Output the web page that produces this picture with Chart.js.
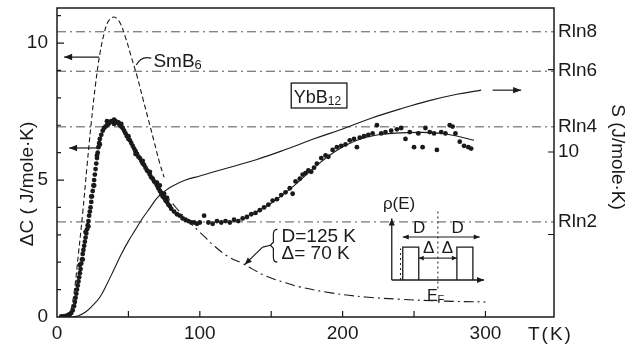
<!DOCTYPE html>
<html>
<head>
<meta charset="utf-8">
<script src="https://cdn.jsdelivr.net/npm/chart.js@4.4.1/dist/chart.umd.min.js"></script>
<style>
  html, body { margin: 0; padding: 0; background: #fff; }
  #wrap { width: 627px; height: 349px; }
</style>
</head>
<body>
<div id="wrap"><canvas id="chart" width="627" height="349"></canvas></div>
<script>
// YbB12 measured excess specific heat, [T (K), dC (J/mole K)]
const ybPoints = [
  [3,0.02],[5,0.03],[7,0.05],[8,0.08],[9,0.1],[10,0.15],[11,0.25],[12,0.4],[12.5,0.55],[13,0.7],
  [13.5,0.85],[14,1.0],[14.5,1.15],[15,1.3],[15.5,1.45],[16,1.6],[16,1.9],[16.5,1.75],[17,1.95],[17.5,2.1],
  [18,2.3],[18,2.1],[18.5,2.45],[19,2.6],[19.5,2.75],[20,2.9],[20,3.1],[20.5,3.05],[21,3.2],[21.5,3.35],
  [22,3.5],[22,3.3],[22.5,3.7],[23,3.85],[23.5,4.0],[24,4.2],[24,4.4],[24.5,4.4],[25,4.6],[25.5,4.8],
  [26,5.0],[26,4.8],[26.5,5.2],[27,5.4],[27.5,5.6],[28,5.8],[28,5.9],[28.5,6.0],[29,6.2],[29.5,6.35],
  [30,6.5],[30,6.3],[31,6.65],[32,6.8],[33,6.9],[34,6.95],[35,7.0],[35,7.15],[36,7.05],[37,7.1],
  [38,7.15],[39,7.15],[40,7.2],[40,7.05],[41,7.15],[42,7.1],[43,7.1],[44,7.0],[45,6.95],[45,7.05],
  [46,6.9],[47,6.8],[48,6.7],[49,6.6],[50,6.5],[50,6.6],[51,6.45],[52,6.35],[53,6.25],[54,6.15],
  [55,6.05],[55,5.95],[56,5.95],[57,5.85],[58,5.8],[59,5.7],[60,5.6],[60,5.7],[61,5.55],[62,5.45],
  [63,5.35],[64,5.3],[65,5.2],[65,5.3],[66,5.1],[67,5.05],[68,4.95],[69,4.9],[70,4.8],[70,4.9],
  [71,4.7],[72,4.6],[72,4.8],[73,4.5],[74,4.4],[75,4.35],[75,4.5],[76,4.25],[77,4.2],[77,4.35],
  [78,4.1],[79,4.05],[80,3.95],[82,3.85],[84,3.75],[86,3.7],[88,3.6],[90,3.55],[92,3.5],[94,3.45],
  [96,3.45],[98,3.4],[100,3.45],[103,3.7],[106,3.45],[109,3.4],[112,3.5],[115,3.45],[118,3.5],[121,3.45],
  [124,3.55],[127,3.5],[130,3.6],[133,3.65],[136,3.75],[139,3.8],[142,3.9],[145,4.0],[148,4.1],[151,4.25],
  [154,4.3],[157,4.45],[160,4.55],[163,4.7],[165,4.5],[167,4.95],[170,5.05],[172,5.2],[174,5.25],[176,5.35],
  [178,5.3],[180,5.45],[182,5.6],[185,5.8],[188,5.9],[190,5.85],[193,6.1],[196,6.2],[199,6.25],[202,6.3],
  [205,6.45],[208,6.5],[210,6.2],[212,6.55],[215,6.6],[218,6.65],[221,6.7],[224,7.0],[227,6.7],[230,6.75],
  [234,6.8],[238,6.85],[241,6.9],[244,6.5],[247,6.75],[250,6.2],[253,6.7],[256,6.2],[258,6.9],[261,6.75],
  [264,6.7],[266,6.1],[269,6.75],[272,6.7],[275,7.0],[277,6.95],[279,6.7],[282,6.4],[285,6.25],[288,6.2],
  [290,6.15]
];

// smooth line through the high temperature YbB12 data
const fitT  = [135, 150, 165, 180, 195, 210, 225, 240, 255, 270, 282, 292];
const fitDC = [3.7, 4.15, 4.75, 5.45, 6.05, 6.45, 6.65, 6.72, 6.74, 6.7, 6.58, 6.45];

// SmB6 specific heat (dashed)
const smbT  = [9, 12, 15, 18, 21, 24, 27, 30, 33, 36, 40, 44, 48, 52, 56, 60, 64, 68, 72, 75];
const smbDC = [0, 0.9, 2.3, 3.8, 5.5, 7.1, 8.5, 9.6, 10.35, 10.8, 10.95, 10.75, 10.2, 9.5, 8.8, 8.0, 7.2, 6.4, 5.6, 5.1];

// calculated curve, D = 125 K, delta = 70 K (dash-dot)
const calcT  = [72, 80, 90, 100, 110, 120, 130, 146, 160, 170, 193, 216, 240, 270, 300];
const calcDC = [4.7, 4.2, 3.6, 3.1, 2.6, 2.2, 1.95, 1.5, 1.25, 1.1, 0.87, 0.73, 0.65, 0.58, 0.55];

// entropy S (right axis, solid)
const entT = [10, 15, 20, 25, 30, 35, 40, 45, 50, 55, 60, 65, 70, 75, 80, 90, 100, 120, 140, 160, 180, 200, 220, 240, 260, 280, 297];
const entS = [0, 0.08, 0.3, 0.7, 1.2, 2.0, 2.9, 3.8, 4.6, 5.3, 6.0, 6.6, 7.2, 7.6, 7.9, 8.3, 8.55, 9.05, 9.55, 10.15, 10.8, 11.4, 12.05, 12.6, 13.1, 13.5, 13.75];

// axes
const xMax = 348;
const leftMax = 11.28;
const rightMax = 18.73;
const R = 8.314;
const rightTickVals = [R * Math.log(2), 10, R * Math.log(4), R * Math.log(6), R * Math.log(8)];
const rightTickText = ['Rln2', '10', 'Rln4', 'Rln6', 'Rln8'];
const refLevels = [R * Math.log(2), R * Math.log(4), R * Math.log(6), R * Math.log(8)];

const FONT = "'Liberation Sans', Arial, sans-serif";
const INK = '#1a1a1a';

const toXY = (xs, ys) => xs.map((v, i) => ({ x: v, y: ys[i] }));

// fixed axis boxes so the plot frame sits where it does in the figure
function fixBox(s, size) {
  if (s.isHorizontal()) s.height = size; else s.width = size;
  s.paddingTop = 0; s.paddingBottom = 0; s.paddingLeft = 0; s.paddingRight = 0;
}

function arrow(ctx, x1, y1, x2, y2, len = 8, w = 3.2) {
  ctx.beginPath(); ctx.moveTo(x1, y1); ctx.lineTo(x2, y2); ctx.stroke();
  const a = Math.atan2(y2 - y1, x2 - x1);
  ctx.beginPath();
  ctx.moveTo(x2, y2);
  ctx.lineTo(x2 - len * Math.cos(a) + w * Math.sin(a), y2 - len * Math.sin(a) - w * Math.cos(a));
  ctx.lineTo(x2 - len * Math.cos(a) - w * Math.sin(a), y2 - len * Math.sin(a) + w * Math.cos(a));
  ctx.closePath(); ctx.fill();
}

function subText(ctx, main, sub, x, y, size, subSize) {
  ctx.font = size + 'px ' + FONT;
  ctx.textAlign = 'left'; ctx.textBaseline = 'alphabetic';
  ctx.fillText(main, x, y);
  const w = ctx.measureText(main).width;
  ctx.font = subSize + 'px ' + FONT;
  ctx.fillText(sub, x + w, y + 2);
}

const overlay = {
  id: 'overlay',
  afterDatasetsDraw(chart) {
    const { ctx, chartArea: a, scales } = chart;
    const px = v => scales.x.getPixelForValue(v);
    const py = v => scales.y.getPixelForValue(v);
    const pr = v => scales.yR.getPixelForValue(v);
    ctx.save();
    ctx.strokeStyle = INK; ctx.fillStyle = INK; ctx.lineWidth = 1.2;

    // frame and inward ticks
    ctx.lineWidth = 1.5;
    ctx.strokeRect(a.left, a.top, a.right - a.left, a.bottom - a.top);
    ctx.lineWidth = 1.2;
    ctx.beginPath();
    for (let t = 50; t <= 300; t += 50) { ctx.moveTo(px(t), a.bottom); ctx.lineTo(px(t), a.bottom - 6); }
    for (let c = 1; c <= 11; c++) { ctx.moveTo(a.left, py(c)); ctx.lineTo(a.left + (c % 5 ? 4 : 7), py(c)); }
    for (const s of [5, 10, 15]) { ctx.moveTo(a.right, pr(s)); ctx.lineTo(a.right - 6, pr(s)); }
    ctx.stroke();

    // arrows telling which axis each curve uses
    arrow(ctx, px(29.5), py(9.49), px(5), py(9.49));
    arrow(ctx, px(29.5), py(6.17), px(8.5), py(6.17));
    arrow(ctx, px(305), pr(13.75), px(325), pr(13.75));

    // SmB6 label
    ctx.beginPath();
    ctx.moveTo(px(55.5), py(9.2));
    ctx.quadraticCurveTo(px(59), py(9.55), px(66), py(9.45));
    ctx.stroke();
    subText(ctx, 'SmB', '6', px(67.5), py(9.37) + 7, 19, 13);

    // YbB12 boxed label
    ctx.lineWidth = 1.3;
    ctx.strokeRect(px(164), py(8.54), px(203) - px(164), py(7.63) - py(8.54));
    subText(ctx, 'YbB', '12', px(165.8), py(8.08) + 7, 18, 12);

    // D / delta annotation with bracket and leader
    ctx.font = '19px ' + FONT;
    ctx.textAlign = 'left'; ctx.textBaseline = 'alphabetic';
    ctx.fillText('D=125 K', px(157.2), py(2.74));
    ctx.fillText('\u0394= 70 K', px(157.2), py(2.12));
    const bx = px(151.5), bt = py(3.2), bb = py(2.0), bm = py(2.62);
    ctx.lineWidth = 1.2;
    ctx.beginPath();
    ctx.moveTo(bx + 4, bt);
    ctx.quadraticCurveTo(bx, bt, bx, bt + 5);
    ctx.lineTo(bx, bm - 3);
    ctx.lineTo(bx - 3, bm);
    ctx.lineTo(bx, bm + 3);
    ctx.lineTo(bx, bb - 5);
    ctx.quadraticCurveTo(bx, bb, bx + 4, bb);
    ctx.stroke();
    ctx.beginPath();
    ctx.moveTo(bx - 3, bm);
    ctx.lineTo(px(144), py(2.55));
    ctx.stroke();
    arrow(ctx, px(144), py(2.55), px(131.5), py(1.92), 7, 3);

    // inset: rho(E) with two band edges
    ctx.lineWidth = 1.3;
    const ax0 = px(234.4), ay0 = py(1.35);
    arrow(ctx, ax0, ay0, ax0, py(3.6), 7, 3);
    arrow(ctx, ax0, ay0, px(299), ay0, 7, 3);
    ctx.beginPath();
    ctx.moveTo(px(242.1), ay0); ctx.lineTo(px(242.1), py(2.55)); ctx.lineTo(px(253.3), py(2.55)); ctx.lineTo(px(253.3), ay0);
    ctx.moveTo(px(280), ay0); ctx.lineTo(px(280), py(2.55)); ctx.lineTo(px(291.2), py(2.55)); ctx.lineTo(px(291.2), ay0);
    ctx.stroke();
    ctx.save();
    ctx.setLineDash([2, 3]); ctx.lineWidth = 1;
    ctx.beginPath();
    ctx.moveTo(px(266.7), py(3.85)); ctx.lineTo(px(266.7), py(0.99));
    ctx.moveTo(px(240.5), ay0); ctx.lineTo(px(240.5), py(2.5));
    ctx.stroke();
    ctx.restore();
    ctx.lineWidth = 1.1;
    arrow(ctx, px(266.7), py(2.92), px(242.1), py(2.92), 6, 2.6);
    arrow(ctx, px(266.7), py(2.92), px(296), py(2.92), 6, 2.6);
    arrow(ctx, px(266.7), py(2.15), px(253.3), py(2.15), 5, 2.4);
    arrow(ctx, px(266.7), py(2.15), px(280), py(2.15), 5, 2.4);
    ctx.font = '17px ' + FONT;
    ctx.textAlign = 'center'; ctx.textBaseline = 'middle';
    ctx.fillText('\u03C1(E)', px(239.5), py(4.12));
    ctx.fillText('D', px(253.5), py(3.22));
    ctx.fillText('D', px(280.5), py(3.22));
    ctx.fillText('\u0394', px(260.3), py(2.5));
    ctx.fillText('\u0394', px(273.3), py(2.5));
    subText(ctx, 'E', 'F', px(259), py(0.8) + 6, 16, 11);

    // axis titles
    ctx.font = '19px ' + FONT;
    ctx.textAlign = 'center'; ctx.textBaseline = 'middle';
    ctx.save();
    ctx.translate(28, 184); ctx.rotate(-Math.PI / 2);
    ctx.fillText('\u0394C ( J/mole\u00B7K)', 0, 0);
    ctx.restore();
    ctx.save();
    ctx.translate(617, 157); ctx.rotate(Math.PI / 2);
    ctx.fillText('S (J/mole\u00B7K)', 0, 0);
    ctx.restore();
    ctx.textAlign = 'left';
    ctx.letterSpacing = '2px';
    ctx.fillText('T(K)', a.right - 26, 335);
    ctx.restore();
  }
};

const refSets = refLevels.map(v => ({
  data: [{ x: 0, y: v }, { x: xMax, y: v }],
  yAxisID: 'yR',
  borderColor: '#555',
  borderWidth: 1,
  borderDash: [9, 4, 2, 4],
  pointRadius: 0,
  showLine: true
}));

new Chart(document.getElementById('chart'), {
  type: 'scatter',
  data: {
    datasets: [
      {
        label: 'YbB12',
        data: ybPoints.map(p => ({ x: p[0], y: p[1] })),
        yAxisID: 'y',
        pointRadius: 2.4,
        pointBackgroundColor: INK,
        pointBorderWidth: 0,
        showLine: false
      },
      {
        label: 'fit',
        data: toXY(fitT, fitDC),
        yAxisID: 'y',
        showLine: true, borderColor: INK, borderWidth: 1.1, pointRadius: 0, tension: 0.4
      },
      {
        label: 'SmB6',
        data: toXY(smbT, smbDC),
        yAxisID: 'y',
        showLine: true, borderColor: INK, borderWidth: 1.1, borderDash: [5, 3], pointRadius: 0, tension: 0.4
      },
      {
        label: 'calc',
        data: toXY(calcT, calcDC),
        yAxisID: 'y',
        showLine: true, borderColor: INK, borderWidth: 1.1, borderDash: [10, 4, 2, 4], pointRadius: 0, tension: 0.4
      },
      {
        label: 'S',
        data: toXY(entT, entS),
        yAxisID: 'yR',
        showLine: true, borderColor: INK, borderWidth: 1.1, pointRadius: 0, tension: 0.4
      },
      ...refSets
    ]
  },
  options: {
    responsive: false,
    animation: false,
    devicePixelRatio: 1,
    layout: { autoPadding: false, padding: { top: 8, left: 0, right: 0, bottom: 0 } },
    plugins: { legend: { display: false }, tooltip: { enabled: false } },
    scales: {
      x: {
        type: 'linear', position: 'bottom', min: 0, max: xMax,
        afterFit: s => fixBox(s, 32),
        grid: { display: false, drawTicks: false },
        border: { display: false },
        ticks: { stepSize: 100, includeBounds: false, maxRotation: 0, padding: 5, color: INK, font: { family: FONT, size: 19 } }
      },
      y: {
        position: 'left', min: 0, max: leftMax,
        afterFit: s => fixBox(s, 57),
        grid: { display: false, drawTicks: false },
        border: { display: false },
        ticks: { stepSize: 5, includeBounds: false, padding: 9, color: INK, font: { family: FONT, size: 19 } }
      },
      yR: {
        position: 'right', min: 0, max: rightMax,
        afterFit: s => fixBox(s, 73),
        afterBuildTicks: s => { s.ticks = rightTickVals.map(v => ({ value: v })); },
        grid: { display: false, drawTicks: false },
        border: { display: false },
        ticks: {
          autoSkip: false, padding: 4, color: INK, font: { family: FONT, size: 19 },
          callback: (v, i) => rightTickText[i]
        }
      }
    }
  },
  plugins: [overlay]
});
</script>
</body>
</html>
